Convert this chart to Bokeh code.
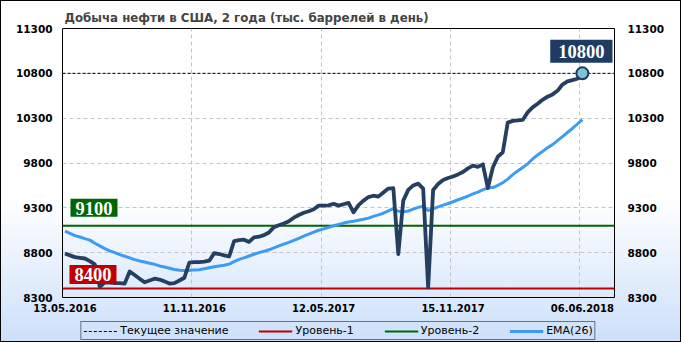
from bokeh.plotting import figure
from bokeh.layouts import column
from bokeh.models import (Range1d, FixedTicker, LinearAxis, Label, Legend,
                          LegendItem, InlineStyleSheet)
from bokeh.embed import file_html
from bokeh.resources import INLINE

title_text = "Добыча нефти  в США, 2 года (тыс. баррелей в день)"
tick_dates = ["13.05.2016", "11.11.2016", "12.05.2017", "15.11.2017", "06.06.2018"]
tick_idx = [0, 26, 52, 78, 104]
y_ticks = [8300, 8800, 9300, 9800, 10300, 10800, 11300]

production = [8790, 8770, 8750, 8743, 8735, 8705, 8670, 8420, 8470, 8465,
              8460, 8460, 8455, 8590, 8550, 8510, 8470, 8490, 8510, 8500,
              8480, 8455, 8460, 8490, 8520, 8690, 8695, 8695, 8700, 8710,
              8795, 8785, 8770, 8757, 8930, 8940, 8945, 8920, 8970, 8978,
              8995, 9025, 9085, 9105, 9125, 9150, 9190, 9220, 9245, 9262,
              9285, 9325, 9325, 9328, 9345, 9325, 9340, 9355, 9250, 9330,
              9380, 9420, 9435, 9425, 9470, 9515, 9520, 8785, 9380, 9500,
              9550, 9570, 9515, 8410, 9500, 9565, 9610, 9632, 9650, 9673,
              9700, 9740, 9770, 9757, 9785, 9520, 9750, 9870, 9920, 10250,
              10270, 10275, 10280, 10365, 10420, 10460, 10505, 10540, 10565, 10605,
              10675, 10710, 10725, 10740, 10800]

ema26 = [9040, 9015, 8990, 8975, 8957, 8940, 8905, 8875, 8845, 8820,
         8800, 8778, 8760, 8742, 8722, 8708, 8695, 8682, 8670, 8652,
         8640, 8627, 8612, 8603, 8600, 8602, 8608, 8610, 8620, 8632,
         8642, 8652, 8660, 8672, 8700, 8725, 8742, 8763, 8782, 8800,
         8815, 8832, 8853, 8875, 8895, 8915, 8937, 8960, 8985, 9007,
         9030, 9050, 9065, 9082, 9100, 9115, 9130, 9142, 9150, 9162,
         9172, 9185, 9205, 9222, 9240, 9265, 9290, 9262, 9255, 9265,
         9285, 9305, 9318, 9270, 9288, 9310, 9330, 9348, 9368, 9390,
         9410, 9430, 9455, 9475, 9500, 9523, 9526, 9550, 9580, 9620,
         9670, 9710, 9750, 9790, 9845, 9890, 9930, 9970, 10005, 10050,
         10095, 10140, 10185, 10235, 10285]

level1 = 8400
level2 = 9100
current = production[-1]
xs = list(range(len(production)))

FONT = "DejaVu Sans"
BOX_FONT = "Liberation Serif"

CUR_STYLE = dict(line_color="black", line_width=1, line_dash="3 2")
L1_STYLE = dict(line_color="#c00000", line_width=2)
L2_STYLE = dict(line_color="#006600", line_width=2)
EMA_STYLE = dict(line_color="#3d9cf2", line_width=3)

xr = Range1d(-0.5, 110.46)
p = figure(width=681, height=318, output_backend="svg", toolbar_location=None,
           x_range=xr, y_range=Range1d(8300, 11300),
           min_border_left=62, min_border_right=67, min_border_top=28,
           min_border_bottom=21)
p.background_fill_alpha = 0
p.border_fill_alpha = 0
p.outline_line_color = "black"
p.outline_line_width = 1
p.outline_line_alpha = 1

p.title.text = title_text
p.title.text_font = FONT
p.title.text_font_size = "11.8px"
p.title.text_font_style = "bold"
p.title.align = "left"
p.title.offset = 2
p.title.standoff = 8

def style_y(ax):
    ax.ticker = FixedTicker(ticks=y_ticks)
    ax.axis_line_color = None
    ax.major_tick_line_color = None
    ax.minor_tick_line_color = None
    ax.major_tick_out = 0
    ax.major_tick_in = 0
    ax.major_label_text_font = FONT
    ax.major_label_text_font_size = "10.5px"
    ax.major_label_text_font_style = "bold"
    ax.major_label_text_color = "black"
    ax.major_label_standoff = 10

style_y(p.yaxis[0])
right_ax = LinearAxis()
style_y(right_ax)
right_ax.major_label_standoff = 13
p.add_layout(right_ax, "right")

xa = p.xaxis[0]
xa.ticker = FixedTicker(ticks=tick_idx)
xa.major_label_overrides = {i: d for i, d in zip(tick_idx, tick_dates)}
xa.axis_line_color = None
xa.major_tick_line_color = None
xa.minor_tick_line_color = None
xa.major_tick_out = 0
xa.major_tick_in = 0
xa.major_label_text_font = FONT
xa.major_label_text_font_size = "10px"
xa.major_label_text_font_style = "bold"
xa.major_label_text_color = "black"
xa.major_label_standoff = 6

p.xgrid.ticker = FixedTicker(ticks=[t - 0.5 for t in tick_idx[1:]])
for g in (p.xgrid[0], p.ygrid[0]):
    g.grid_line_color = "#c4c4c4"
    g.grid_line_dash = "4 3"
    g.grid_line_width = 1
p.ygrid.ticker = FixedTicker(ticks=y_ticks)

span_x = [xr.start, xr.end]
p.line(span_x, [level1, level1], **L1_STYLE)
p.line(span_x, [level2, level2], **L2_STYLE)
p.line(span_x, [current, current], **CUR_STYLE)

p.line(xs, ema26, **EMA_STYLE)
p.line(xs, production, line_color="#243f60", line_width=3.8, line_join="round")
p.scatter([xs[-1]], [current], size=12, fill_color="#7cc3dc",
          line_color="#1b3a5c", line_width=2)

def box_label(x, y, text, color, xo, yo, pad):
    return Label(x=x, y=y, text=text, x_offset=xo, y_offset=yo,
                 text_align="center", text_baseline="middle",
                 text_font=BOX_FONT, text_font_size="18.5px", text_font_style="bold",
                 text_color="white", background_fill_color=color, padding=pad)

p.add_layout(box_label(xs[-1], current, str(current), "#1f3b63", -1, 22,
                       dict(left=8, right=8, top=5, bottom=5)))
p.add_layout(box_label(xs[0], level2, str(level2), "#006600", 29, 18,
                       dict(left=5, right=5, top=3, bottom=2)))
p.add_layout(box_label(xs[0], level1, str(level1), "#c00000", 28, 14,
                       dict(left=5, right=5, top=3, bottom=3)))

# legend strip
q = figure(width=681, height=24, output_backend="svg", toolbar_location=None,
           x_range=Range1d(xr.start, xr.end), y_range=Range1d(8300, 11300),
           min_border=0, x_axis_location=None, y_axis_location=None)
q.background_fill_alpha = 0
q.border_fill_alpha = 0
q.outline_line_color = None
q.grid.visible = False
r_cur = q.line(span_x, [current, current], visible=False, **CUR_STYLE)
r_l1 = q.line(span_x, [level1, level1], visible=False, **L1_STYLE)
r_l2 = q.line(span_x, [level2, level2], visible=False, **L2_STYLE)
r_ema = q.line(xs, ema26, visible=False, **EMA_STYLE)

legend = Legend(items=[LegendItem(label="Текущее значение", renderers=[r_cur]),
                       LegendItem(label="Уровень-1", renderers=[r_l1]),
                       LegendItem(label="Уровень-2", renderers=[r_l2]),
                       LegendItem(label="EMA(26)", renderers=[r_ema])],
                orientation="horizontal", location="top_center",
                label_text_font=FONT, label_text_font_size="11px",
                label_text_color="black", glyph_width=34, glyph_height=10,
                label_height=12, label_standoff=3, spacing=30, padding=2,
                margin=3, border_line_color="black", border_line_width=1,
                background_fill_alpha=0, inactive_fill_alpha=0)
q.add_layout(legend, "center")

page = column(p, q, spacing=0)
page.stylesheets = [InlineStyleSheet(css=(
    ":host { background: linear-gradient(to bottom, #ffffff 0%, #ffffff 58%, "
    "#cce0fa 100%); box-shadow: inset 0 0 0 1px #000000; }"))]

open("out.html", "w").write(file_html(page, INLINE))
